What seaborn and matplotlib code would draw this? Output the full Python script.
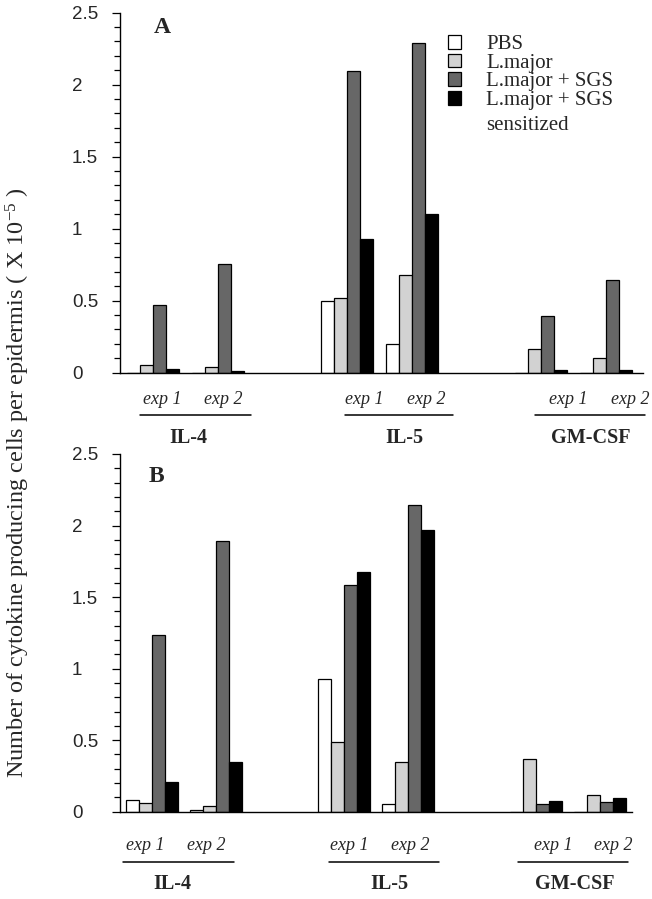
import numpy as np
import pandas as pd
import seaborn as sns
import matplotlib.pyplot as plt
from matplotlib.patches import Patch
from matplotlib.ticker import MultipleLocator

# data (cells x 10^-5 per epidermis)
groups = ["IL-4 exp 1", "IL-4 exp 2", "IL-5 exp 1", "IL-5 exp 2", "GM-CSF exp 1", "GM-CSF exp 2"]
treatments = ["PBS", "L.major", "L.major + SGS", "L.major + SGS sensitized"]

pbs_a = [0, 0, 0.494, 0.20, 0, 0]
lmajor_a = [0.054, 0.04, 0.517, 0.68, 0.165, 0.10]
sgs_a = [0.47, 0.757, 2.098, 2.29, 0.39, 0.645]
sens_a = [0.023, 0.01, 0.926, 1.098, 0.015, 0.02]

pbs_b = [0.082, 0.012, 0.925, 0.054, 0, 0]
lmajor_b = [0.058, 0.04, 0.487, 0.35, 0.368, 0.117]
sgs_b = [1.232, 1.89, 1.584, 2.143, 0.052, 0.066]
sens_b = [0.205, 0.345, 1.673, 1.968, 0.075, 0.094]

yticks = [0, 0.5, 1, 1.5, 2, 2.5]
ytick_labels = ["0", "0.5", "1", "1.5", "2", "2.5"]

# empty slots between cytokines
order = ["IL-4 exp 1", "IL-4 exp 2", " ", "IL-5 exp 1", "IL-5 exp 2", "  ", "GM-CSF exp 1", "GM-CSF exp 2"]
colors = {"PBS": "white", "L.major": "#d2d2d2", "L.major + SGS": "#676767",
          "L.major + SGS sensitized": "black"}


def make_df(series):
    rows = []
    for t, vals in zip(treatments, series):
        for g, v in zip(groups, vals):
            rows.append({"group": g, "treatment": t, "value": v})
    return pd.DataFrame(rows)


df_a = make_df([pbs_a, lmajor_a, sgs_a, sens_a])
df_b = make_df([pbs_b, lmajor_b, sgs_b, sens_b])

sns.set_style("ticks")
plt.rcParams['font.family'] = ['Liberation Serif', 'DejaVu Serif']
plt.rcParams['mathtext.fontset'] = 'custom'
plt.rcParams['mathtext.rm'] = 'Liberation Serif'
plt.rcParams['mathtext.it'] = 'Liberation Serif:italic'

W, H = 652, 899
fig = plt.figure(figsize=(W / 100, H / 100), dpi=100)


def px(x, y):
    return x / W, 1 - y / H


ax_a = fig.add_axes([120 / W, 1 - 372.5 / H, 523 / W, 359.8 / H])
ax_b = fig.add_axes([120 / W, 1 - 811.7 / H, 512 / W, 357.7 / H])

for ax, df, xl in [(ax_a, df_a, (-0.51, 7.57)), (ax_b, df_b, (-0.5, 7.5))]:
    sns.barplot(data=df, x="group", y="value", hue="treatment", order=order,
                hue_order=treatments, palette=colors, saturation=1, width=0.8,
                edgecolor="black", linewidth=0.9, errorbar=None, legend=False, ax=ax)
    ax.set_xlim(*xl)
    ax.set_ylim(0, 2.5)
    ax.set_xlabel("")
    ax.set_ylabel("")
    ax.set_xticks([])
    ax.set_yticks(yticks)
    ax.set_yticklabels(ytick_labels, family="Liberation Sans", fontsize=13.5, ha="left")
    ax.yaxis.set_minor_locator(MultipleLocator(0.1))
    ax.tick_params(axis="y", which="major", length=5.5, width=0.9, pad=29, color="black")
    ax.tick_params(axis="y", which="minor", length=4.5, width=0.9, color="black")
    sns.despine(ax=ax)
    for s in ["left", "bottom"]:
        ax.spines[s].set_color("black")
        ax.spines[s].set_linewidth(1.0)

fig.text(*px(162, 27.5), "A", fontsize=17, fontweight="bold", ha="center", va="center")
fig.text(*px(156, 476.5), "B", fontsize=17, fontweight="bold", ha="center", va="center")

# group labels under the axes
annot = [
    (399, 415, 438, [(162, 223, 140, 251, 188, "IL-4"), (364, 426, 345, 453, 404, "IL-5"),
                     (568, 630, 535, 645, 591, "GM-CSF")]),
    (846, 862, 884, [(145, 206, 123, 234, 172, "IL-4"), (349, 410, 329, 439, 389, "IL-5"),
                     (553, 613, 518, 628, 575, "GM-CSF")]),
]
for ye, yl, yc, items in annot:
    for e1, e2, l0, l1, xc, name in items:
        fig.text(*px(e1, ye), "exp 1", fontsize=13, style="italic", ha="center", va="center")
        fig.text(*px(e2, ye), "exp 2", fontsize=13, style="italic", ha="center", va="center")
        fig.add_artist(plt.Line2D([l0 / W, l1 / W], [1 - yl / H, 1 - yl / H],
                                  transform=fig.transFigure, color="black", lw=1.1))
        fig.text(*px(xc, yc), name, fontsize=14.5, fontweight="bold", ha="center", va="center")

fig.text(*px(18, 483), r"Number of cytokine producing cells per epidermis ( X 10$^{-5}$ )",
         fontsize=17.5, rotation=90, ha="center", va="center")

handles = [Patch(facecolor=colors[t], edgecolor="black", linewidth=0.9) for t in treatments]
leg_labels = ["PBS", "L.major", "L.major + SGS", "L.major + SGS"]
ax_a.legend(handles, leg_labels, loc="upper left", bbox_to_anchor=px(448, 35),
            bbox_transform=fig.transFigure, frameon=False, fontsize=15, borderpad=0,
            borderaxespad=0, handlelength=0.62, handleheight=0.62, handletextpad=1.2,
            labelspacing=-0.02)
fig.text(*px(486, 125), "sensitized", fontsize=15, ha="left", va="center")

fig.savefig("out.png", dpi=100)
